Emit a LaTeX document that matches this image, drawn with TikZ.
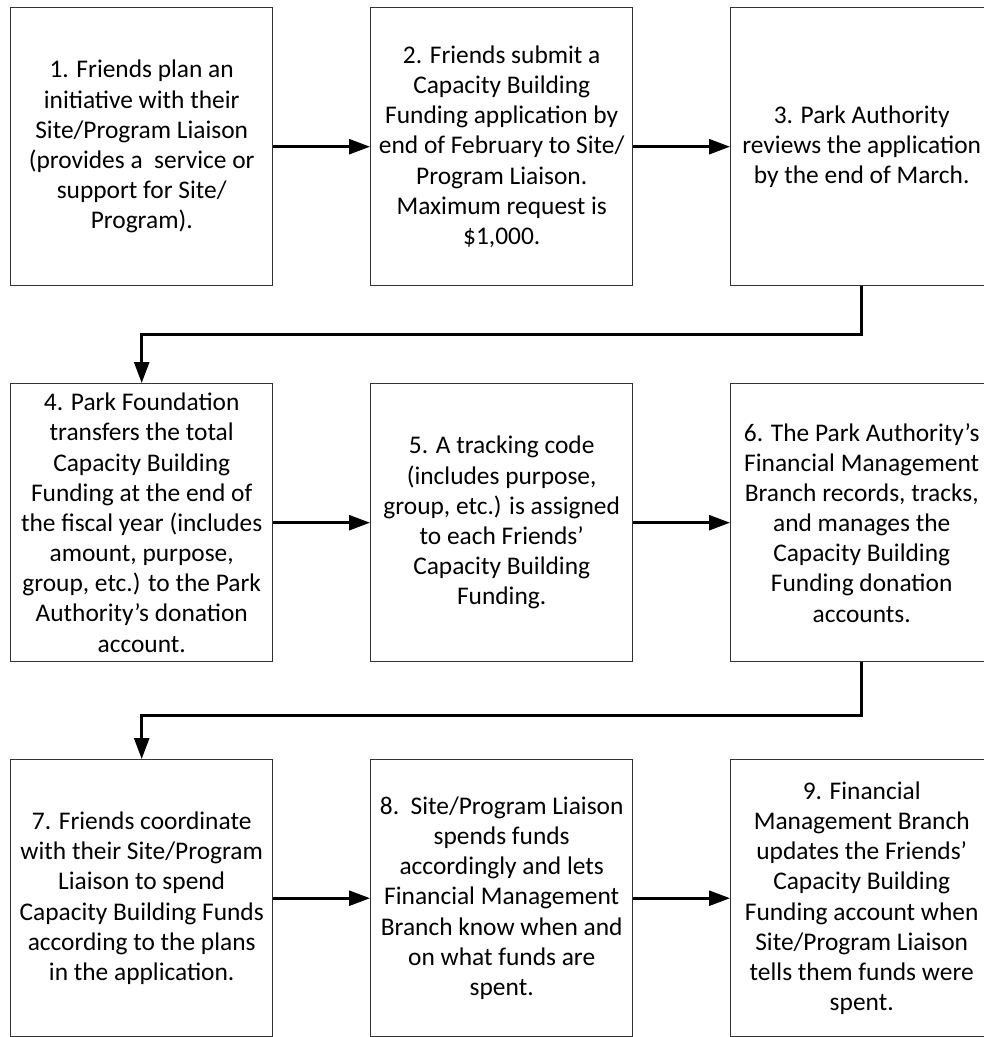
\documentclass[tikz,border=0pt]{standalone}
\usepackage{fontspec}
\setmainfont{Carlito}
\usetikzlibrary{arrows.meta}
\begin{document}
\begin{tikzpicture}[x=1bp,y=-1bp,
  stepbox/.style={draw=black!80, line width=1.4bp, minimum width=262bp, minimum height=278bp,
    inner sep=0pt, align=center, font=\fontsize{25.5}{30.3}\selectfont, text=black, anchor=north west},
  conn/.style={draw=black, line width=2.6bp, -{Triangle[length=21bp,width=15bp]}}]
\useasboundingbox (0,0) rectangle (984,1037);

\node[stepbox] (b1) at (10,7) {1. Friends plan an\\initiative with their\\Site/Program Liaison\\(provides a\ \ service or\\support for Site/\\Program).};
\node[stepbox] (b2) at (370,7) {2. Friends submit a\\Capacity Building\\Funding application by\\end of February to Site/\\Program Liaison.\\Maximum request is\\\$1,000.};
\node[stepbox] (b3) at (730,7) {3. Park Authority\\reviews the application\\by the end of March.};

\node[stepbox] (b4) at (10,383) {4. Park Foundation\\transfers the total\\Capacity Building\\Funding at the end of\\the fiscal year (includes\\amount, purpose,\\group, etc.) to the Park\\Authority’s donation\\account.};
\node[stepbox] (b5) at (370,383) {5. A tracking code\\(includes purpose,\\group, etc.) is assigned\\to each Friends’\\Capacity Building\\Funding.};
\node[stepbox] (b6) at (730,383) {6. The Park Authority’s\\Financial Management\\Branch records, tracks,\\and manages the\\Capacity Building\\Funding donation\\accounts.};

\node[stepbox, minimum height=277bp] (b7) at (10,759) {7. Friends coordinate\\with their Site/Program\\Liaison to spend\\Capacity Building Funds\\according to the plans\\in the application.};
\node[stepbox, minimum height=277bp] (b8) at (370,759) {8.\ \ Site/Program Liaison\\spends funds\\accordingly and lets\\Financial Management\\Branch know when and\\on what funds are\\spent.};
\node[stepbox, minimum height=277bp] (b9) at (730,759) {9. Financial\\Management Branch\\updates the Friends’\\Capacity Building\\Funding account when\\Site/Program Liaison\\tells them funds were\\spent.};

\draw[conn] (b1.east) -- (b2.west);
\draw[conn] (b2.east) -- (b3.west);
\draw[conn] (b3.south) -- ++(0,48) -| (b4.north);
\draw[conn] (b4.east) -- (b5.west);
\draw[conn] (b5.east) -- (b6.west);
\draw[conn] (b6.south) -- ++(0,53) -| (b7.north);
\draw[conn] (b7.east) -- (b8.west);
\draw[conn] (b8.east) -- (b9.west);
\end{tikzpicture}
\end{document}
